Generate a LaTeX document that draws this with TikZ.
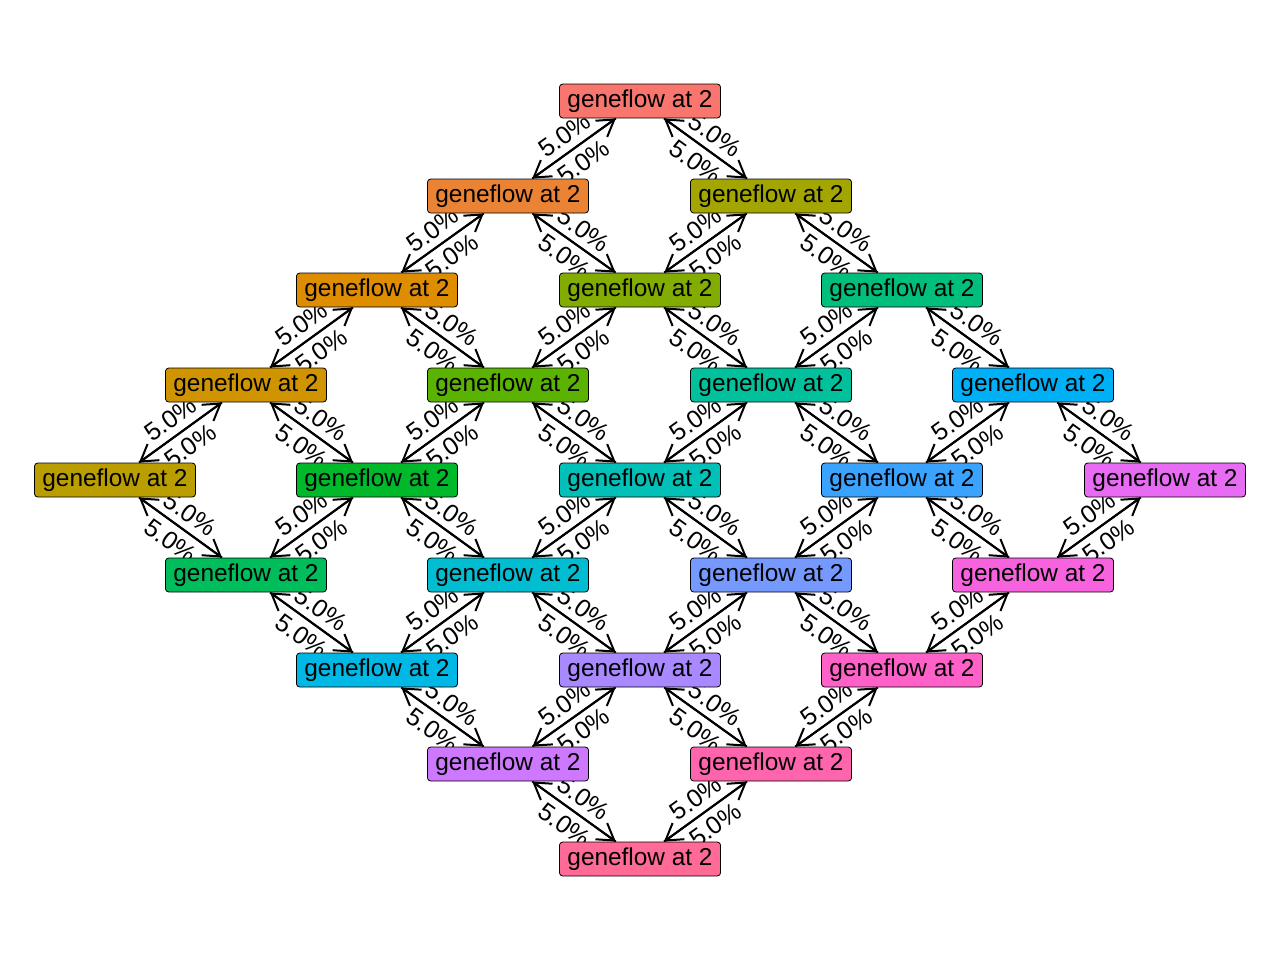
\documentclass[tikz,border=0pt]{standalone}
\usepackage{fontspec}
\setmainfont{Liberation Sans}
\usetikzlibrary{arrows.meta,backgrounds}

\tikzset{
  flowbox/.style={draw=black, line width=0.6pt, rounded corners=2.5pt, inner xsep=6pt, inner ysep=0pt, minimum height=25.5pt, font=\fontsize{18.3}{22}\selectfont, text=black},
  flowarrow/.style={line width=1.5pt, -{Straight Barb[length=12pt, width=15pt]}},
  flowlabel/.style={midway, inner sep=5pt, font=\fontsize{18.8}{22}\selectfont}
}

% two opposite flows between neighbouring demes, #3 = text angle
\newcommand{\pairflow}[3]{%
  \draw [flowarrow] (#1) -- node [flowlabel, above, rotate=#3] {5.0\%} (#2);
  \draw [flowarrow] (#2) -- node [flowlabel, below, rotate=#3] {5.0\%} (#1);
}

\begin{document}
\begin{tikzpicture}[x=0.75pt,y=0.75pt,yscale=-1,xscale=1]
    \useasboundingbox (0,0) rectangle (1280,960);

    % Deme nodes, row by row
    \node [flowbox, fill={rgb, 255:red, 248; green, 118; blue, 109 }] (n00) at (640,101) {geneflow at 2};

    \node [flowbox, fill={rgb, 255:red, 235; green, 131; blue, 53 }] (n10) at (508,196) {geneflow at 2};
    \node [flowbox, fill={rgb, 255:red, 163; green, 165; blue, 0 }] (n01) at (771,196) {geneflow at 2};

    \node [flowbox, fill={rgb, 255:red, 222; green, 140; blue, 0 }] (n20) at (377,290) {geneflow at 2};
    \node [flowbox, fill={rgb, 255:red, 131; green, 172; blue, 0 }] (n11) at (640,290) {geneflow at 2};
    \node [flowbox, fill={rgb, 255:red, 0; green, 191; blue, 125 }] (n02) at (902,290) {geneflow at 2};

    \node [flowbox, fill={rgb, 255:red, 207; green, 148; blue, 0 }] (n30) at (246,385) {geneflow at 2};
    \node [flowbox, fill={rgb, 255:red, 90; green, 179; blue, 0 }] (n21) at (508,385) {geneflow at 2};
    \node [flowbox, fill={rgb, 255:red, 0; green, 193; blue, 156 }] (n12) at (771,385) {geneflow at 2};
    \node [flowbox, fill={rgb, 255:red, 0; green, 176; blue, 246 }] (n03) at (1033,385) {geneflow at 2};

    \node [flowbox, fill={rgb, 255:red, 186; green, 158; blue, 0 }] (n40) at (115,480) {geneflow at 2};
    \node [flowbox, fill={rgb, 255:red, 0; green, 185; blue, 43 }] (n31) at (377,480) {geneflow at 2};
    \node [flowbox, fill={rgb, 255:red, 0; green, 192; blue, 183 }] (n22) at (640,480) {geneflow at 2};
    \node [flowbox, fill={rgb, 255:red, 58; green, 163; blue, 255 }] (n13) at (902,480) {geneflow at 2};
    \node [flowbox, fill={rgb, 255:red, 231; green, 107; blue, 243 }] (n04) at (1165,480) {geneflow at 2};

    \node [flowbox, fill={rgb, 255:red, 0; green, 189; blue, 92 }] (n41) at (246,575) {geneflow at 2};
    \node [flowbox, fill={rgb, 255:red, 0; green, 189; blue, 209 }] (n32) at (508,575) {geneflow at 2};
    \node [flowbox, fill={rgb, 255:red, 117; green, 153; blue, 255 }] (n23) at (771,575) {geneflow at 2};
    \node [flowbox, fill={rgb, 255:red, 247; green, 99; blue, 223 }] (n14) at (1033,575) {geneflow at 2};

    \node [flowbox, fill={rgb, 255:red, 0; green, 184; blue, 229 }] (n42) at (377,670) {geneflow at 2};
    \node [flowbox, fill={rgb, 255:red, 169; green, 137; blue, 255 }] (n33) at (640,670) {geneflow at 2};
    \node [flowbox, fill={rgb, 255:red, 255; green, 97; blue, 201 }] (n24) at (902,670) {geneflow at 2};

    \node [flowbox, fill={rgb, 255:red, 205; green, 120; blue, 254 }] (n43) at (508,764) {geneflow at 2};
    \node [flowbox, fill={rgb, 255:red, 255; green, 101; blue, 173 }] (n34) at (771,764) {geneflow at 2};

    \node [flowbox, fill={rgb, 255:red, 255; green, 107; blue, 150 }] (n44) at (640,859) {geneflow at 2};

    % Migration arrows, kept behind the boxes
    \begin{pgfonlayer}{background}
    \pairflow{n00}{n10}{35.7}
    \pairflow{n00}{n01}{-35.7}
    \pairflow{n10}{n20}{35.7}
    \pairflow{n10}{n11}{-35.7}
    \pairflow{n01}{n11}{35.7}
    \pairflow{n01}{n02}{-35.7}
    \pairflow{n20}{n30}{35.7}
    \pairflow{n20}{n21}{-35.7}
    \pairflow{n11}{n21}{35.7}
    \pairflow{n11}{n12}{-35.7}
    \pairflow{n02}{n12}{35.7}
    \pairflow{n02}{n03}{-35.7}
    \pairflow{n30}{n40}{35.7}
    \pairflow{n30}{n31}{-35.7}
    \pairflow{n21}{n31}{35.7}
    \pairflow{n21}{n22}{-35.7}
    \pairflow{n12}{n22}{35.7}
    \pairflow{n12}{n13}{-35.7}
    \pairflow{n03}{n13}{35.7}
    \pairflow{n03}{n04}{-35.7}
    \pairflow{n40}{n41}{-35.7}
    \pairflow{n31}{n41}{35.7}
    \pairflow{n31}{n32}{-35.7}
    \pairflow{n22}{n32}{35.7}
    \pairflow{n22}{n23}{-35.7}
    \pairflow{n13}{n23}{35.7}
    \pairflow{n13}{n14}{-35.7}
    \pairflow{n04}{n14}{35.7}
    \pairflow{n41}{n42}{-35.7}
    \pairflow{n32}{n42}{35.7}
    \pairflow{n32}{n33}{-35.7}
    \pairflow{n23}{n33}{35.7}
    \pairflow{n23}{n24}{-35.7}
    \pairflow{n14}{n24}{35.7}
    \pairflow{n42}{n43}{-35.7}
    \pairflow{n33}{n43}{35.7}
    \pairflow{n33}{n34}{-35.7}
    \pairflow{n24}{n34}{35.7}
    \pairflow{n43}{n44}{-35.7}
    \pairflow{n34}{n44}{35.7}
    \end{pgfonlayer}

\end{tikzpicture}
\end{document}
